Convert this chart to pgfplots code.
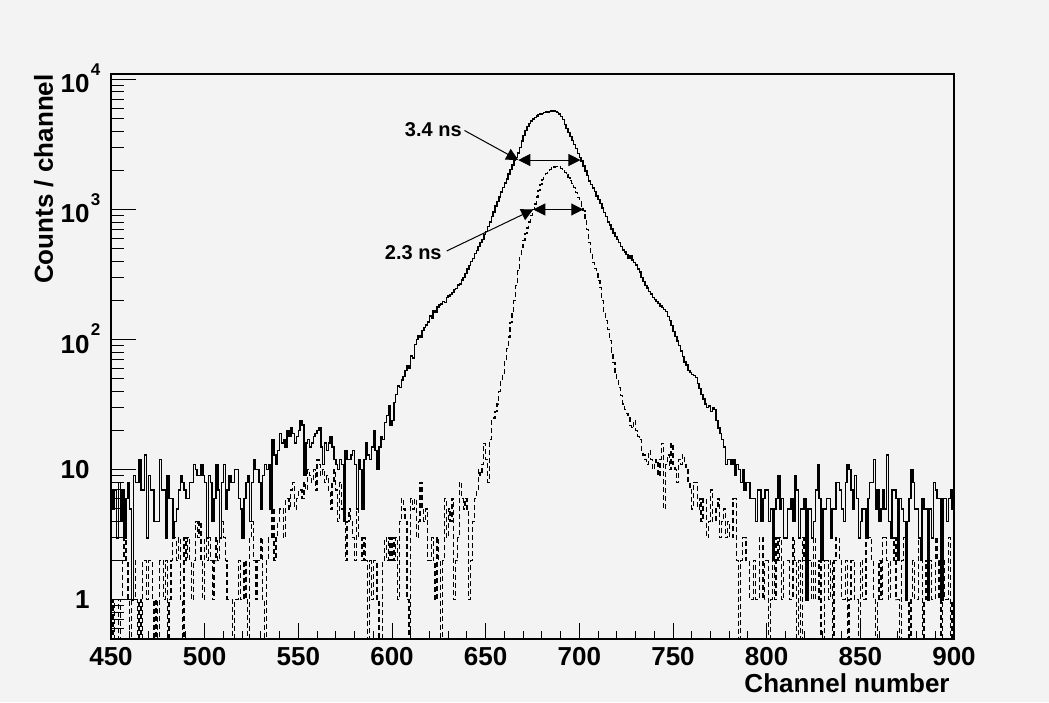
\documentclass[border=0pt]{standalone}
\usepackage{fontspec}
\setmainfont{Liberation Sans}
\usepackage{pgfplots}
\pgfplotsset{compat=1.18}
\usepackage{pgfplotstable}
\usetikzlibrary{arrows.meta}
\definecolor{canvas}{RGB}{243,243,243}

% 10^n label: superscript sticks out to the right, digits sit a little low
\newcommand{\tenp}[1]{\raisebox{-2.25pt}[\height][\depth]{10\rlap{\hspace{0.6pt}\raisebox{8.8pt}[0pt][0pt]{\fontsize{8.5}{9}\selectfont #1}}}}

% channel, solid histogram, dashed histogram
\pgfplotstableread[row sep=\\]{
ch s d\\
450 7 1\\ 451 5 0\\ 452 7 1\\ 453 3 1\\ 454 8 0\\ 455 4 1\\ 456 7 2\\ 457 3 3\\ 458 6 2\\ 459 8 1\\
460 5 0\\ 461 1 1\\ 462 9 2\\ 463 8 1\\ 464 8 0\\ 465 12 1\\ 466 7 0\\ 467 7 2\\ 468 13 2\\ 469 3 1\\
470 9 2\\ 471 7 2\\ 472 7 1\\ 473 4 0\\ 474 4 1\\ 475 4 0\\ 476 12 2\\ 477 7 2\\ 478 7 1\\ 479 3 2\\
480 9 0\\ 481 6 1\\ 482 6 2\\ 483 3 3\\ 484 4 3\\ 485 5 2\\ 486 7 3\\ 487 9 1\\ 488 8 0\\ 489 7 3\\
490 6 2\\ 491 6 3\\ 492 8 2\\ 493 8 1\\ 494 11 2\\ 495 10 4\\ 496 9 3\\ 497 9 4\\ 498 11 2\\ 499 9 1\\
500 8 3\\ 501 3 2\\ 502 9 3\\ 503 8 2\\ 504 4 1\\ 505 6 2\\ 506 11 3\\ 507 7 2\\ 508 3 3\\ 509 8 4\\
510 11 3\\ 511 5 2\\ 512 7 1\\ 513 9 1\\ 514 8 1\\ 515 8 0\\ 516 10 1\\ 517 10 1\\ 518 6 2\\ 519 5 1\\
520 3 1\\ 521 6 2\\ 522 8 1\\ 523 9 0\\ 524 4 3\\ 525 8 4\\ 526 12 2\\ 527 10 1\\ 528 10 2\\ 529 8 2\\
530 5 3\\ 531 9 1\\ 532 11 0\\ 533 10 2\\ 534 11 3\\ 535 5 3\\ 536 17 5\\ 537 13 2\\ 538 11 3\\ 539 14 4\\
540 19 5\\ 541 16 5\\ 542 17 3\\ 543 15 6\\ 544 20 6\\ 545 18 5\\ 546 21 7\\ 547 19 8\\ 548 16 5\\ 549 18 6\\
550 20 7\\ 551 24 7\\ 552 22 6\\ 553 9 8\\ 554 16 7\\ 555 17 10\\ 556 15 9\\ 557 16 8\\ 558 18 10\\ 559 19 7\\
560 20 12\\ 561 21 11\\ 562 15 9\\ 563 11 10\\ 564 16 8\\ 565 14 9\\ 566 16 7\\ 567 18 5\\ 568 15 8\\ 569 12 10\\
570 11 7\\ 571 10 4\\ 572 12 8\\ 573 11 5\\ 574 4 4\\ 575 14 2\\ 576 12 4\\ 577 12 5\\ 578 13 4\\ 579 14 3\\
580 11 2\\ 581 5 5\\ 582 12 3\\ 583 10 3\\ 584 5 2\\ 585 12 3\\ 586 16 2\\ 587 13 0\\ 588 12 2\\ 589 15 1\\
590 20 2\\ 591 14 2\\ 592 10 1\\ 593 15 0\\ 594 18 0\\ 595 17 2\\ 596 23 3\\ 597 26 2\\ 598 31 3\\ 599 22 2\\
600 24 3\\ 601 33 2\\ 602 38 3\\ 603 44 1\\ 604 43 4\\ 605 49 6\\ 606 52 5\\ 607 58 4\\ 608 63 1\\ 609 60 0\\
610 75 6\\ 611 72 5\\ 612 92 6\\ 613 100 3\\ 614 108 4\\ 615 104 8\\ 616 118 5\\ 617 124 4\\ 618 130 5\\ 619 136 2\\
620 152 2\\ 621 146 3\\ 622 166 2\\ 623 162 1\\ 624 178 3\\ 625 184 2\\ 626 188 0\\ 627 196 2\\ 628 193 6\\ 629 210 3\\
630 216 5\\ 631 222 4\\ 632 230 6\\ 633 242 1\\ 634 246 2\\ 635 262 3\\ 636 268 8\\ 637 288 6\\ 638 300 5\\ 639 322 6\\
640 350 5\\ 641 372 1\\ 642 398 2\\ 643 420 4\\ 644 458 6\\ 645 482 7\\ 646 520 10\\ 647 556 9\\ 648 590 11\\ 649 640 16\\
650 680 12\\ 651 740 8\\ 652 800 17\\ 653 880 24\\ 654 960 25\\ 655 1060 28\\ 656 1150 32\\ 657 1250 40\\ 658 1360 48\\ 659 1470 55\\
660 1600 68\\ 661 1720 85\\ 662 1870 105\\ 663 2030 135\\ 664 2200 165\\ 665 2380 200\\ 666 2520 260\\ 667 2720 340\\ 668 3000 430\\ 669 3350 510\\
670 3700 580\\ 671 4050 650\\ 672 4350 720\\ 673 4600 800\\ 674 4800 900\\ 675 4950 1000\\ 676 5100 1100\\ 677 5250 1250\\ 678 5350 1400\\ 679 5420 1560\\
680 5480 1700\\ 681 5560 1800\\ 682 5600 1880\\ 683 5620 1950\\ 684 5660 2020\\ 685 5720 2080\\ 686 5760 2120\\ 687 5650 2140\\ 688 5550 2150\\ 689 5400 2120\\
690 5200 2060\\ 691 4900 1990\\ 692 4500 1920\\ 693 4200 1850\\ 694 3900 1760\\ 695 3650 1680\\ 696 3400 1580\\ 697 3150 1470\\ 698 2950 1350\\ 699 2700 1240\\
700 2500 1150\\ 701 2350 1060\\ 702 2150 980\\ 703 1980 860\\ 704 1820 700\\ 705 1650 560\\ 706 1550 450\\ 707 1460 390\\ 708 1370 350\\ 709 1270 320\\
710 1190 285\\ 711 1110 250\\ 712 1030 200\\ 713 950 160\\ 714 880 140\\ 715 800 120\\ 716 760 98\\ 717 710 80\\ 718 660 67\\ 719 620 55\\
720 590 49\\ 721 560 43\\ 722 520 37\\ 723 490 32\\ 724 470 29\\ 725 450 27\\ 726 420 25\\ 727 440 22\\ 728 410 21\\ 729 390 24\\
730 375 20\\ 731 350 18\\ 732 330 17\\ 733 300 14\\ 734 280 13\\ 735 260 12\\ 736 250 11\\ 737 235 14\\ 738 225 12\\ 739 210 10\\
740 204 11\\ 741 196 12\\ 742 190 9\\ 743 182 12\\ 744 176 16\\ 745 170 5\\ 746 165 11\\ 747 150 13\\ 748 140 10\\ 749 128 16\\
750 115 11\\ 751 106 10\\ 752 98 8\\ 753 90 12\\ 754 82 11\\ 755 74 13\\ 756 67 11\\ 757 64 10\\ 758 58 8\\ 759 56 7\\
760 54 5\\ 761 53 8\\ 762 51 8\\ 763 46 5\\ 764 42 6\\ 765 38 4\\ 766 35 6\\ 767 32 6\\ 768 30 3\\ 769 31 4\\
770 28 7\\ 771 30 4\\ 772 29 4\\ 773 24 5\\ 774 21 6\\ 775 19 3\\ 776 17 4\\ 777 15 5\\ 778 11 3\\ 779 12 4\\
780 12 3\\ 781 11 3\\ 782 12 6\\ 783 9 6\\ 784 11 2\\ 785 10 0\\ 786 8 2\\ 787 10 3\\ 788 7 3\\ 789 8 2\\
790 8 2\\ 791 6 1\\ 792 6 1\\ 793 6 2\\ 794 4 1\\ 795 7 1\\ 796 7 3\\ 797 4 3\\ 798 6 1\\ 799 7 2\\
800 7 2\\ 801 4 0\\ 802 5 1\\ 803 2 2\\ 804 5 1\\ 805 6 3\\ 806 9 2\\ 807 5 3\\ 808 6 1\\ 809 3 2\\
810 3 2\\ 811 5 2\\ 812 5 1\\ 813 6 1\\ 814 4 3\\ 815 9 2\\ 816 7 0\\ 817 3 2\\ 818 5 0\\ 819 5 3\\
820 6 2\\ 821 1 1\\ 822 5 2\\ 823 5 2\\ 824 3 1\\ 825 4 3\\ 826 7 1\\ 827 11 1\\ 828 6 2\\ 829 2 0\\
830 5 0\\ 831 5 2\\ 832 6 2\\ 833 6 1\\ 834 3 2\\ 835 5 0\\ 836 5 2\\ 837 8 3\\ 838 8 3\\ 839 7 2\\
840 5 1\\ 841 4 1\\ 842 8 2\\ 843 11 0\\ 844 10 1\\ 845 7 2\\ 846 5 2\\ 847 9 1\\ 848 6 1\\ 849 3 0\\
850 4 2\\ 851 5 1\\ 852 5 1\\ 853 3 3\\ 854 6 3\\ 855 8 3\\ 856 8 2\\ 857 12 1\\ 858 5 0\\ 859 7 1\\
860 4 2\\ 861 5 1\\ 862 7 3\\ 863 5 3\\ 864 13 2\\ 865 4 1\\ 866 3 2\\ 867 7 2\\ 868 7 3\\ 869 6 1\\
870 2 1\\ 871 6 0\\ 872 5 2\\ 873 4 3\\ 874 1 1\\ 875 4 1\\ 876 6 0\\ 877 10 1\\ 878 8 2\\ 879 5 1\\
880 5 1\\ 881 3 3\\ 882 2 2\\ 883 6 0\\ 884 5 1\\ 885 5 2\\ 886 1 1\\ 887 5 2\\ 888 3 1\\ 889 8 1\\
890 7 3\\ 891 6 2\\ 892 6 1\\ 893 1 0\\ 894 6 2\\ 895 6 1\\ 896 4 1\\ 897 6 3\\ 898 7 0\\ 899 5 1\\
900 5 1\\
}\spec

\begin{document}
\begin{tikzpicture}
\fill[canvas] (-55.5pt,-31.5pt) rectangle (469pt,319.5pt);
\begin{axis}[
  at={(0,0)}, anchor=south west,
  scale only axis, width=421.5pt, height=282.5pt,
  ymode=log, log basis y=10,
  xmin=450, xmax=900, ymin=0.5, ymax=11000,
  xtick={450,500,...,900}, minor x tick num=4,
  xticklabels={450,500,550,600,650,700,750,800,850,900},
  ytick={1,10,100,1000,10000},
  yticklabels={1,10,\tenp{2},\tenp{3},\tenp{4}},
  minor ytick={0.5,0.6,0.7,0.8,0.9,2,3,4,5,6,7,8,9,20,30,40,50,60,70,80,90,200,300,400,500,600,700,800,900,2000,3000,4000,5000,6000,7000,8000,9000},
  tick align=inside, tick pos=left,
  xtick style={black, line width=0.5pt, /pgfplots/major tick length=8pt, /pgfplots/minor tick length=4pt},
  ytick style={black, line width=0.5pt, /pgfplots/major tick length=12.5pt, /pgfplots/minor tick length=6.25pt},
  axis line style={line width=0.9pt},
  tick label style={font=\bfseries\fontsize{13}{15}\selectfont, inner sep=0pt},
  xticklabel style={anchor=north, yshift=-4pt},
  yticklabel style={anchor=east, xshift=-10.5pt},
]
\addplot[black, line width=0.75pt, const plot, mark=none]
  table[x=ch, y expr={max(\thisrow{s},0.1)}] {\spec};
\addplot[black, line width=0.65pt, const plot, mark=none, dash pattern=on 2.5pt off 1.5pt]
  table[x=ch, y expr={max(\thisrow{d},0.1)}] {\spec};

\node[anchor=base east, inner sep=0pt, font=\bfseries\fontsize{10}{12}\selectfont] at (axis cs:637.4,3608) {3.4 ns};
\node[anchor=base east, inner sep=0pt, font=\bfseries\fontsize{10}{12}\selectfont] at (axis cs:626.7,416) {2.3 ns};
\draw[line width=0.5pt, -{Triangle[length=6pt,width=6pt]}] (axis cs:638.7,4048) -- (axis cs:667.4,2400);
\draw[line width=0.5pt, {Triangle[length=6pt,width=6pt]}-{Triangle[length=6pt,width=6pt]}] (axis cs:667.4,2400) -- (axis cs:700.6,2400);
\draw[line width=0.5pt, -{Triangle[length=6pt,width=6pt]}] (axis cs:629.2,480) -- (axis cs:675.4,1000);
\draw[line width=0.5pt, {Triangle[length=6pt,width=6pt]}-{Triangle[length=6pt,width=6pt]}] (axis cs:675.4,1000) -- (axis cs:702.1,1000);
\end{axis}
\node[anchor=base east, inner sep=0pt, font=\bfseries\fontsize{13}{15}\selectfont] at (419.5pt,-26.5pt) {Channel number};
\node[anchor=base east, rotate=90, inner sep=0pt, font=\bfseries\fontsize{13}{15}\selectfont] at (-29pt,282.5pt) {Counts / channel};
\end{tikzpicture}
\end{document}
